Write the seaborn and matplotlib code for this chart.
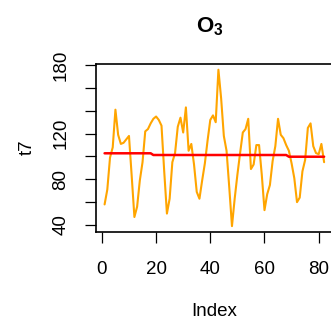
import numpy as np
import pandas as pd
import seaborn as sns
import matplotlib.pyplot as plt

# series values (index 1..82)
index = list(range(1, 83))
o3 = [58, 71, 99, 108, 141, 119, 111, 112, 115, 118,
      83, 47, 56, 79, 95, 122, 124, 129, 133, 135,
      132, 127, 87, 50, 63, 95, 103, 126, 134, 121,
      143, 105, 111, 93, 69, 63, 79, 94, 114, 132,
      136, 130, 176, 151, 118, 105, 73, 39, 63, 84,
      103, 121, 124, 133, 89, 93, 110, 110, 84, 53,
      67, 75, 96, 109, 133, 119, 116, 110, 105, 94,
      81, 60, 64, 87, 97, 125, 129, 109, 103, 102,
      111, 95]
trend = [102.8] * 18 + [101.3] * 50 + [99.8] * 14

x_ticks = [0, 20, 40, 60, 80]
y_ticks = [40, 60, 80, 100, 120, 140, 160, 180]
# R drops the labels that would overlap
y_labels = ['40', '', '80', '', '120', '', '', '180']

df = pd.DataFrame({'Index': index, 't7': o3, 'trend': trend})

sns.set_style('ticks')
plt.rcParams['font.family'] = ['Liberation Sans', 'DejaVu Sans']
plt.rcParams['mathtext.fontset'] = 'custom'
plt.rcParams['mathtext.rm'] = 'Liberation Sans'
plt.rcParams['mathtext.bf'] = 'Liberation Sans:bold'
plt.rcParams['text.color'] = 'black'
plt.rcParams['xtick.color'] = 'black'
plt.rcParams['ytick.color'] = 'black'
plt.rcParams['xtick.labelcolor'] = 'black'
plt.rcParams['ytick.labelcolor'] = 'black'

fig = plt.figure(figsize=(3.31, 3.21), dpi=100)
ax = fig.add_axes([95.7 / 331, 88.7 / 321, 237.3 / 331, 168.3 / 321])

sns.lineplot(data=df, x='Index', y='t7', color='#FFA500', lw=1.5, ax=ax)
sns.lineplot(data=df, x='Index', y='trend', color='#FF0000', lw=1.8, ax=ax)

ax.set_xlim(-2.28, 85.28)
ax.set_ylim(33.6, 181)
ax.set_xticks(x_ticks)
ax.set_yticks(y_ticks)
ax.set_yticklabels(y_labels)
ax.tick_params(axis='both', direction='out', length=8, width=0.9,
               labelsize=13.5, color='black', labelcolor='black')
ax.tick_params(axis='x', pad=13)
ax.tick_params(axis='y', pad=11, labelrotation=90)
for t in ax.get_yticklabels():
    t.set_va('center')
for s in ax.spines.values():
    s.set_linewidth(1.2)
    s.set_color('black')
ax.set_xlabel('')
ax.set_ylabel('')

fig.text(214 / 331, 1 - 312 / 321, 'Index', ha='center', va='center',
         fontsize=13.5, color='black')
fig.text(27.5 / 331, 1 - 147 / 321, 't7', ha='center', va='center',
         rotation=90, fontsize=13.5, color='black')
fig.text(210 / 331, 1 - 27 / 321, r'$\mathbf{O_3}$', ha='center', va='center',
         fontsize=16, color='black')

fig.savefig('out.png', dpi=100)
